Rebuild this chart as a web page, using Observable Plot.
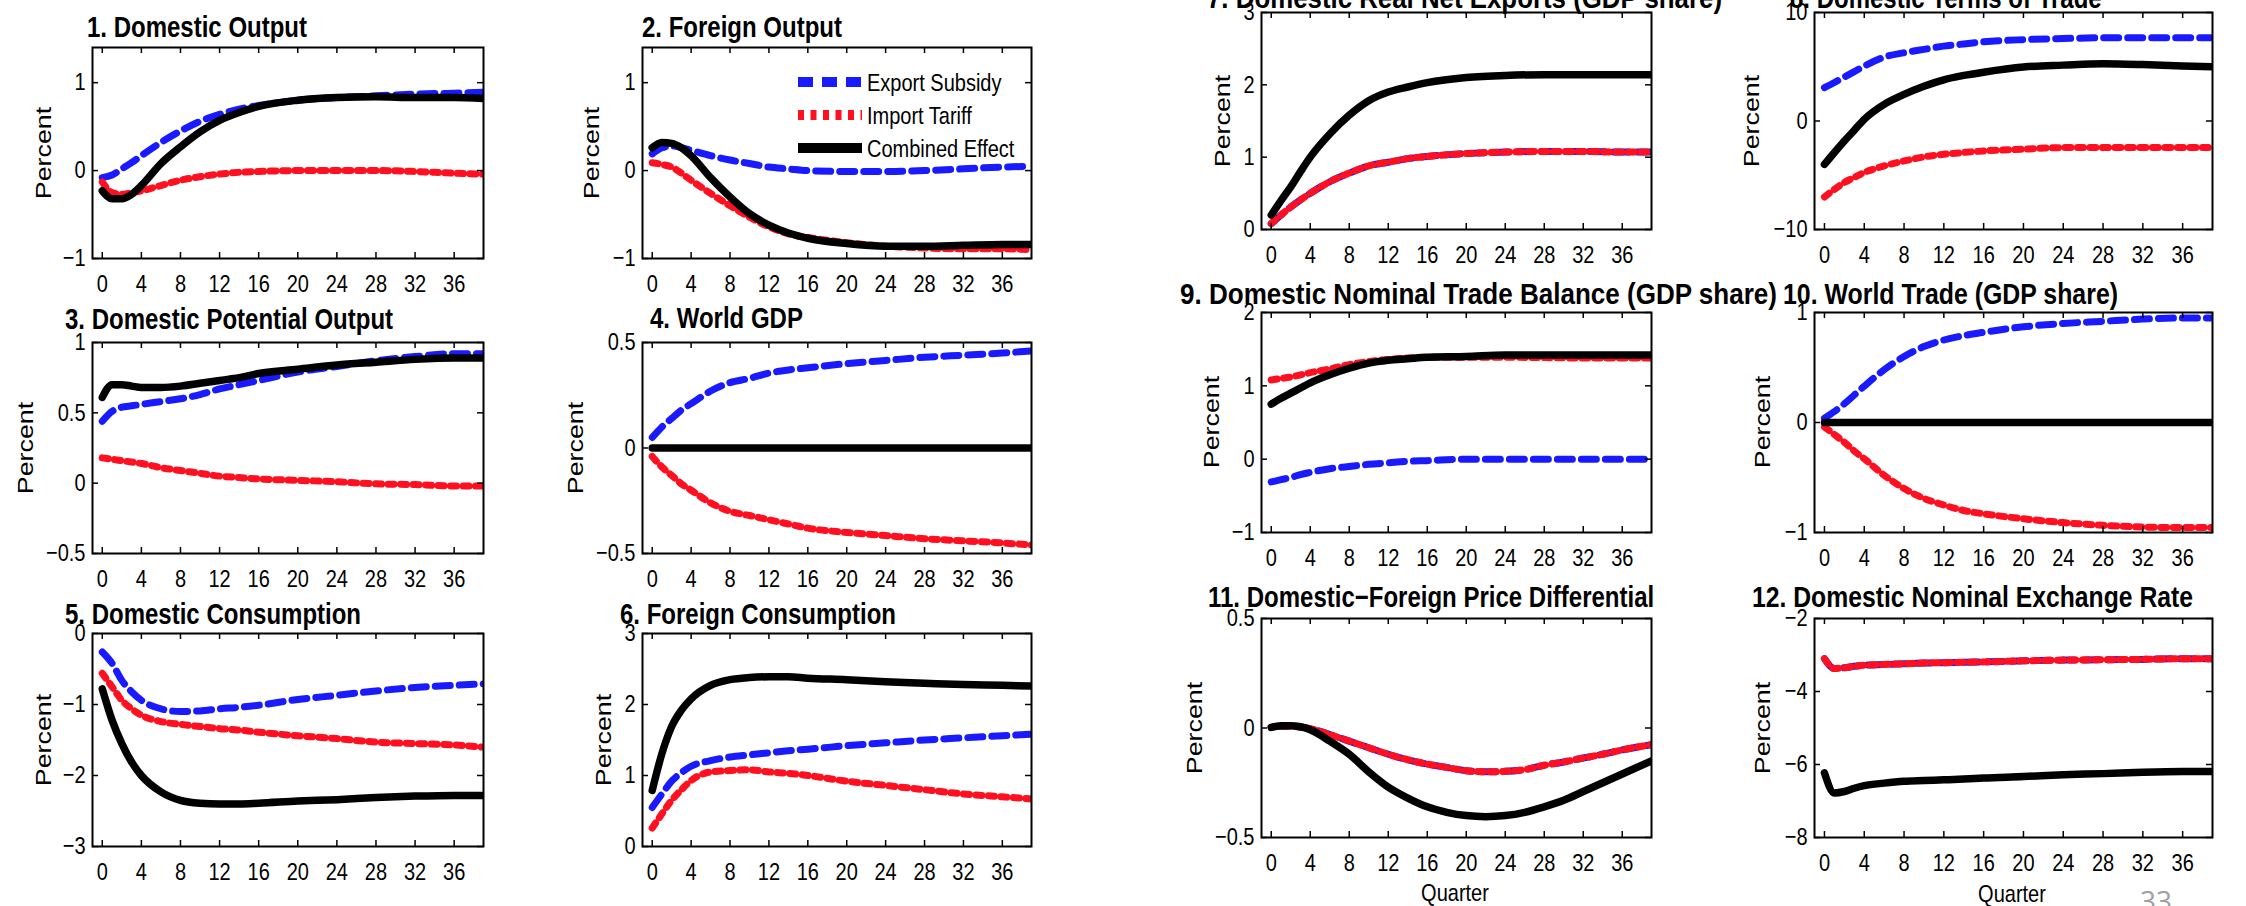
<!DOCTYPE html>
<html><head><meta charset="utf-8">
<script src="https://cdn.jsdelivr.net/npm/d3@7"></script>
<script src="https://cdn.jsdelivr.net/npm/@observablehq/plot@0.6"></script>
<style>
body{margin:0;background:#fff;}
#root{position:relative;width:2246px;height:906px;overflow:hidden;background:#fff;font-family:"Liberation Sans",Arial,sans-serif;color:#000;}
.ttl{position:absolute;font-weight:bold;font-size:24px;line-height:1;white-space:nowrap;transform-origin:left center;}
.ylab{position:absolute;font-size:22px;line-height:1;white-space:nowrap;transform:translate(-50%,-50%) rotate(-90deg) scaleX(1.22);}
.xlab{position:absolute;font-size:20px;line-height:1;white-space:nowrap;transform:translate(-50%,-50%) scaleY(1.22);}
.pg{position:absolute;font-family:"Open Sans",sans-serif;font-size:28px;line-height:1;color:#a0a0a0;}
svg{position:absolute;}
</style></head>
<body><div id="root"></div>
<script>
// ---------------- data ----------------
const quarters = [0,1,2,3,4,6,8,10,12,14,16,20,24,28,32,36,39];
const quartersFine = [0,1,2,4,6,8,10,12,14,16,18,20,22,24,26,28,30,32,34,36,39];
const xTicks = [0,4,8,12,16,20,24,28,32,36];
const seriesNames = ["Export Subsidy","Import Tariff","Combined Effect"];

const p1Export   = [-0.08,-0.05,0.02,0.09,0.17,0.32,0.45,0.56,0.64,0.70,0.74,0.80,0.83,0.85,0.87,0.88,0.89];
const p1Tariff   = [-0.13,-0.25,-0.27,-0.25,-0.23,-0.17,-0.11,-0.07,-0.04,-0.02,-0.01,0.0,0.0,0.0,-0.01,-0.03,-0.04];
const p1Combined = [-0.23,-0.32,-0.32,-0.27,-0.17,0.08,0.27,0.44,0.57,0.66,0.73,0.80,0.83,0.84,0.83,0.83,0.82];

const p2Export   = [0.19,0.26,0.28,0.26,0.23,0.17,0.12,0.08,0.04,0.02,0.0,-0.01,-0.01,0.0,0.02,0.04,0.05];
const p2Tariff   = [0.09,0.07,0.04,-0.03,-0.11,-0.26,-0.40,-0.53,-0.64,-0.72,-0.76,-0.82,-0.86,-0.88,-0.89,-0.89,-0.90];
const p2Combined = [0.26,0.32,0.31,0.26,0.17,-0.08,-0.30,-0.49,-0.62,-0.71,-0.77,-0.83,-0.86,-0.86,-0.85,-0.84,-0.84];

const p3Export   = [0.44,0.51,0.54,0.55,0.56,0.58,0.60,0.63,0.67,0.70,0.73,0.79,0.83,0.87,0.90,0.92,0.92];
const p3Tariff   = [0.18,0.17,0.16,0.15,0.14,0.11,0.09,0.07,0.05,0.04,0.03,0.02,0.01,-0.005,-0.01,-0.02,-0.02];
const p3Combined = [0.61,0.70,0.70,0.69,0.68,0.68,0.69,0.71,0.73,0.75,0.78,0.81,0.84,0.86,0.88,0.89,0.89];

const p4Export   = [0.05,0.10,0.14,0.18,0.21,0.27,0.31,0.33,0.355,0.37,0.38,0.40,0.415,0.43,0.44,0.45,0.46];
const p4Tariff   = [-0.04,-0.09,-0.13,-0.17,-0.20,-0.26,-0.30,-0.32,-0.34,-0.36,-0.38,-0.40,-0.415,-0.43,-0.44,-0.45,-0.46];
const p4Combined = [0,0,0,0,0,0,0,0,0,0,0,0,0,0,0,0,0];

const p5Export   = [-0.26,-0.42,-0.66,-0.82,-0.94,-1.06,-1.10,-1.09,-1.06,-1.04,-1.01,-0.93,-0.87,-0.81,-0.76,-0.73,-0.71];
const p5Tariff   = [-0.56,-0.75,-0.94,-1.06,-1.15,-1.24,-1.28,-1.31,-1.34,-1.36,-1.39,-1.44,-1.48,-1.53,-1.55,-1.57,-1.60];
const p5Combined = [-0.78,-1.22,-1.55,-1.81,-2.0,-2.23,-2.35,-2.39,-2.40,-2.40,-2.39,-2.36,-2.34,-2.31,-2.29,-2.28,-2.28];

const p6Export   = [0.55,0.74,0.92,1.04,1.13,1.21,1.26,1.29,1.32,1.35,1.37,1.42,1.46,1.50,1.53,1.56,1.58];
const p6Tariff   = [0.26,0.46,0.65,0.80,0.93,1.05,1.07,1.08,1.05,1.03,1.0,0.92,0.86,0.80,0.74,0.70,0.67];
const p6Combined = [0.79,1.31,1.69,1.92,2.08,2.27,2.35,2.38,2.39,2.39,2.37,2.35,2.32,2.30,2.28,2.27,2.26];

const p7Export   = [0.08,0.20,0.31,0.41,0.50,0.66,0.78,0.88,0.93,0.98,1.01,1.05,1.07,1.08,1.08,1.07,1.07];
const p7Tariff   = [0.08,0.20,0.31,0.41,0.50,0.66,0.78,0.88,0.93,0.98,1.01,1.05,1.07,1.08,1.08,1.07,1.07];
const p7Combined = [0.20,0.40,0.59,0.80,1.0,1.32,1.58,1.78,1.90,1.97,2.03,2.10,2.13,2.14,2.14,2.14,2.14];

const p8Export   = [3.07,3.55,4.05,4.55,5.06,5.89,6.29,6.6,6.9,7.1,7.3,7.5,7.6,7.67,7.67,7.67,7.67];
const p8Tariff   = [-7.0,-6.3,-5.67,-5.2,-4.75,-4.14,-3.68,-3.31,-3.07,-2.9,-2.76,-2.6,-2.45,-2.45,-2.45,-2.45,-2.45];
const p8Combined = [-4.0,-2.9,-1.84,-0.85,0.15,1.53,2.45,3.2,3.8,4.2,4.5,4.97,5.15,5.28,5.2,5.06,5.0];

const p9Export   = [-0.31,-0.28,-0.25,-0.21,-0.18,-0.13,-0.10,-0.07,-0.05,-0.03,-0.02,0.0,0.0,0.0,0.0,0.0,0.0];
const p9Tariff   = [1.08,1.10,1.12,1.15,1.18,1.23,1.29,1.33,1.36,1.38,1.39,1.39,1.39,1.385,1.38,1.38,1.38];
const p9Combined = [0.75,0.83,0.90,0.97,1.04,1.15,1.24,1.31,1.35,1.37,1.39,1.40,1.42,1.42,1.42,1.42,1.42];

const p10Export   = [0.04,0.10,0.17,0.25,0.33,0.48,0.60,0.69,0.75,0.79,0.82,0.87,0.90,0.92,0.94,0.95,0.95];
const p10Tariff   = [-0.04,-0.11,-0.18,-0.26,-0.33,-0.48,-0.60,-0.69,-0.75,-0.80,-0.83,-0.875,-0.91,-0.935,-0.95,-0.955,-0.955];
const p10Combined = [0,0,0,0,0,0,0,0,0,0,0,0,0,0,0,0,0];

const p11Export   = [0.003,0.008,0.008,-0.003,-0.03,-0.06,-0.09,-0.12,-0.145,-0.165,-0.18,-0.195,-0.20,-0.198,-0.19,-0.17,-0.155,-0.137,-0.12,-0.10,-0.076];
const p11Tariff   = [0.003,0.008,0.008,-0.003,-0.03,-0.06,-0.09,-0.12,-0.145,-0.165,-0.18,-0.195,-0.20,-0.198,-0.19,-0.17,-0.155,-0.137,-0.12,-0.10,-0.076];
const p11Combined = [0.003,0.01,0.01,-0.008,-0.06,-0.12,-0.20,-0.27,-0.32,-0.36,-0.385,-0.40,-0.405,-0.40,-0.385,-0.36,-0.33,-0.29,-0.25,-0.21,-0.15];

const p12Export   = [-3.1,-3.37,-3.35,-3.31,-3.28,-3.26,-3.24,-3.22,-3.21,-3.20,-3.19,-3.16,-3.14,-3.13,-3.12,-3.1,-3.1];
const p12Tariff   = [-3.1,-3.37,-3.35,-3.31,-3.28,-3.26,-3.24,-3.22,-3.21,-3.20,-3.19,-3.16,-3.14,-3.13,-3.12,-3.1,-3.1];
const p12Combined = [-6.23,-6.78,-6.74,-6.65,-6.58,-6.51,-6.46,-6.44,-6.42,-6.40,-6.37,-6.33,-6.28,-6.25,-6.21,-6.19,-6.19];

const titles = [
  "1. Domestic Output","2. Foreign Output","3. Domestic Potential Output","4. World GDP",
  "5. Domestic Consumption","6. Foreign Consumption","7. Domestic Real Net Exports (GDP share)",
  "8. Domestic Terms of Trade","9. Domestic Nominal Trade Balance (GDP share)","10. World Trade (GDP share)",
  "11. Domestic\u2212Foreign Price Differential","12. Domestic Nominal Exchange Rate"
];
const yDomains = [[-1,1.4],[-1,1.4],[-0.5,1],[-0.5,0.5],[-3,0],[0,3],[0,3],[-10,10],[-1,2],[-1,1],[-0.5,0.5],[-8,-2]];
const yTicks = [[-1,0,1],[-1,0,1],[-0.5,0,0.5,1],[-0.5,0,0.5],[-3,-2,-1,0],[0,1,2,3],[0,1,2,3],[-10,0,10],[-1,0,1,2],[-1,0,1],[-0.5,0,0.5],[-8,-6,-4,-2]];
const panelSeries = [
  [p1Export,p1Tariff,p1Combined],[p2Export,p2Tariff,p2Combined],[p3Export,p3Tariff,p3Combined],
  [p4Export,p4Tariff,p4Combined],[p5Export,p5Tariff,p5Combined],[p6Export,p6Tariff,p6Combined],
  [p7Export,p7Tariff,p7Combined],[p8Export,p8Tariff,p8Combined],[p9Export,p9Tariff,p9Combined],
  [p10Export,p10Tariff,p10Combined],[p11Export,p11Tariff,p11Combined],[p12Export,p12Tariff,p12Combined]
];
const panelQuarters = [quarters,quarters,quarters,quarters,quarters,quarters,quarters,quarters,quarters,quarters,quartersFine,quarters];

// ---------------- layout ----------------
const frames = [ // left, top, right, bottom (px)
  [92,47,483,258],[642,47,1031,258],[92,342,483,553],[642,342,1031,553],[92,633,483,846],[642,633,1031,846],
  [1261,12,1651,229],[1814,12,2212,229],[1261,312,1651,532],[1814,312,2212,532],[1261,618,1651,837],[1814,618,2212,837]
];
const titlePos = [[87,27],[642,27],[65,319],[650,318],[65,614],[620,614],[1207,-2],[1790,-2],[1180,294],[1783,294],[1208,597],[1752,597]];
const titleWidth = [null,null,null,null,null,null,515,null,597,335,null,441];
const ylabX = [44,592,26,576,44,604,1223,1752,1212,1763,1195,1763];
const SY = 1.22;
const styles = [
  {stroke:"#1a1aff", dash:"15,9", width:7},
  {stroke:"#ff1020", dash:"6,6.5", width:7},
  {stroke:"#000000", dash:null, width:7.5}
];

const root = document.getElementById("root");

function stretchText(svg){
  svg.querySelectorAll("text").forEach(t=>{
    const tr = t.getAttribute("transform");
    if (tr) t.setAttribute("transform", tr + ` scale(1,${SY})`);
    else {
      const x = t.getAttribute("x"), y = t.getAttribute("y");
      const nx = x && !/em/.test(x) ? +x : 0;
      const ny = y && !/em/.test(y) ? +y : 0;
      if (x && !/em/.test(x)) t.removeAttribute("x");
      if (y && !/em/.test(y)) t.removeAttribute("y");
      t.setAttribute("transform", `translate(${nx},${ny}) scale(1,${SY})`);
    }
  });
}

for (let i=0;i<12;i++){
  const [L,T,R,B] = frames[i];
  const W = R-L, H = B-T;
  const ml=70, mr=12, mt=12, mb=45;
  const q = panelQuarters[i];
  const marks = [];
  panelSeries[i].forEach((vals,k)=>{
    const st = styles[k];
    const rows = q.map((x,j)=>({q:x, v:vals[j], s:seriesNames[k]}));
    const opt = {x:"q", y:"v", stroke:st.stroke, strokeWidth:st.width, curve:"monotone-x", clip:true, strokeLinejoin:"round"};
    if (st.dash) opt.strokeDasharray = st.dash;
    marks.push(Plot.line(rows, opt));
  });
  marks.push(
    Plot.ruleX(xTicks, {insetTop:H-6, stroke:"#000", strokeWidth:1.5}),
    Plot.ruleX(xTicks, {insetBottom:H-6, stroke:"#000", strokeWidth:1.5}),
    Plot.ruleY(yTicks[i], {insetRight:W-6, stroke:"#000", strokeWidth:1.5}),
    Plot.ruleY(yTicks[i], {insetLeft:W-6, stroke:"#000", strokeWidth:1.5}),
    Plot.frame({stroke:"#000", strokeWidth:2}),
    Plot.axisX(xTicks, {tickSize:0, tickPadding:16, fontSize:20, label:null, tickFormat:d3.format("d")}),
    Plot.axisY(yTicks[i], {tickSize:0, tickPadding:7, fontSize:20, label:null, tickFormat:d3.format("~g")})
  );
  const svg = Plot.plot({
    width: W+ml+mr, height: H+mt+mb,
    marginLeft:ml, marginRight:mr, marginTop:mt, marginBottom:mb,
    x:{domain:[-1,39]}, y:{domain:yDomains[i]},
    style:{fontFamily:"'Liberation Sans', Arial, sans-serif", fontSize:"20px", background:"transparent", overflow:"visible", color:"#000"},
    marks
  });
  stretchText(svg);
  svg.style.left = (L-ml)+"px";
  svg.style.top = (T-mt)+"px";
  root.appendChild(svg);

  const tt = document.createElement("div");
  tt.className="ttl"; tt.textContent = titles[i];
  tt.style.left = titlePos[i][0]+"px"; tt.style.top = titlePos[i][1]+"px";
  root.appendChild(tt);
  let sx = 1;
  if (titleWidth[i]) sx = titleWidth[i] / tt.getBoundingClientRect().width;
  tt.style.transform = `translateY(-50%) scale(${sx},${SY})`;

  const yl = document.createElement("div");
  yl.className="ylab"; yl.textContent="Percent";
  yl.style.left = ylabX[i]+"px"; yl.style.top = ((T+B)/2)+"px";
  root.appendChild(yl);
}

// x-axis titles
[[1455,892],[2012,893]].forEach(([x,y])=>{
  const d=document.createElement("div"); d.className="xlab"; d.textContent="Quarter";
  d.style.left=x+"px"; d.style.top=y+"px"; root.appendChild(d);
});

// legend (panel 2)
const lg = d3.select(root).append("svg").attr("width",250).attr("height",110)
  .style("left","790px").style("top","60px");
[22,55,88].forEach((y,k)=>{
  const st = styles[k];
  lg.append("line").attr("x1",8).attr("x2",72).attr("y1",y).attr("y2",y)
    .attr("stroke",st.stroke).attr("stroke-width",10).attr("stroke-dasharray",st.dash||null);
  lg.append("text").attr("transform",`translate(77,${y}) scale(1,${SY})`).attr("dy","0.35em")
    .attr("font-family","'Liberation Sans', Arial, sans-serif").attr("font-size",20).text(seriesNames[k]);
});

// page number
const pg=document.createElement("div"); pg.className="pg"; pg.textContent="33";
pg.style.left="2140px"; pg.style.top="886px"; root.appendChild(pg);
</script>
</body></html>
